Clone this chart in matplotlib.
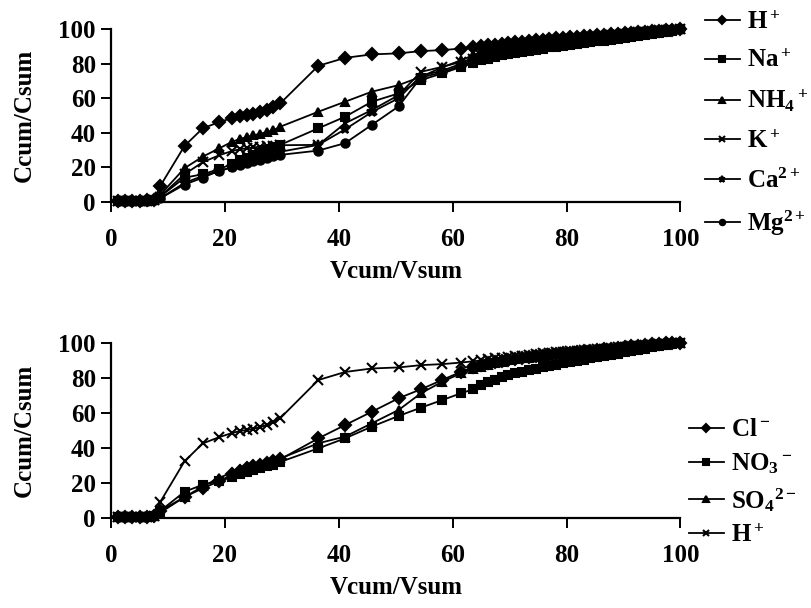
import matplotlib
matplotlib.use("Agg")
import matplotlib.pyplot as plt

# ---------------- data ----------------
x_sparse = [1.2, 2.5, 3.7, 5.0, 6.3, 7.5, 8.6, 12.9, 16.1, 19.0, 21.3, 22.7, 23.8, 25.0,
            26.2, 27.4, 28.5, 29.7, 36.4, 41.1, 45.8, 50.5, 54.4, 58.2, 61.5, 63.6]
x_dense = [65.0, 66.2, 67.4, 68.6, 69.8, 71.0, 72.2, 73.4, 74.6, 75.8, 77.0, 78.2, 79.4,
           80.6, 81.8, 83.0, 84.2, 85.4, 86.6, 87.8, 89.0, 90.2, 91.4, 92.6, 93.8, 95.0,
           96.2, 97.4, 98.6, 100.0]
x_vals = x_sparse + x_dense

h_plus = [0.5, 0.5, 0.5, 0.6, 0.8, 1.0, 9.0, 32.4, 42.6, 46.2, 48.6, 49.7, 50.3, 50.9,
          52.0, 53.2, 54.7, 57.0, 78.8, 83.4, 85.4, 86.0, 87.3, 87.9, 88.8, 89.5,
          90.0, 90.6, 91.1, 91.6, 92.0, 92.4, 92.8, 93.2, 93.6, 94.0, 94.3, 94.7, 95.0,
          95.3, 95.6, 95.9, 96.2, 96.5, 96.8, 97.1, 97.4, 97.7, 98.0, 98.3, 98.6, 98.9,
          99.2, 99.5, 99.8, 100.0]
na_plus = [0.3, 0.3, 0.4, 0.5, 0.6, 0.8, 3.0, 14.0, 16.0, 19.0, 22.0, 24.0, 25.5, 27.0,
           28.5, 30.0, 31.5, 33.0, 42.6, 49.3, 58.0, 62.8, 70.5, 74.4, 78.2, 80.2,
           82.0, 83.0, 84.0, 84.8, 85.6, 86.3, 87.0, 87.6, 88.2, 88.8, 89.4, 89.9, 90.4,
           90.9, 91.4, 91.9, 92.4, 92.9, 93.4, 93.9, 94.4, 94.9, 95.4, 95.9, 96.5, 97.1,
           97.8, 98.5, 99.2, 100.0]
nh4_plus = [0.3, 0.3, 0.4, 0.5, 0.6, 0.8, 4.0, 19.5, 26.2, 31.0, 34.9, 36.5, 37.5, 38.5,
            39.5, 40.5, 41.5, 43.5, 52.2, 58.0, 63.8, 67.6, 72.4, 78.0, 82.0, 85.0,
            87.0, 88.2, 89.3, 90.2, 91.0, 91.7, 92.3, 92.9, 93.4, 93.9, 94.3, 94.7, 95.1,
            95.5, 95.9, 96.2, 96.5, 96.8, 97.1, 97.4, 97.7, 98.0, 98.3, 98.6, 98.9, 99.2,
            99.4, 99.6, 99.8, 100.0]
k_plus = [0.3, 0.3, 0.4, 0.5, 0.6, 0.8, 3.0, 16.0, 23.0, 27.0, 29.5, 30.5, 31.0, 31.5,
          32.0, 32.3, 32.6, 32.8, 33.0, 45.5, 53.2, 61.8, 75.3, 78.2, 81.1, 83.0,
          85.0, 86.4, 87.6, 88.5, 89.3, 90.0, 90.6, 91.2, 91.8, 92.3, 92.8, 93.3, 93.7,
          94.1, 94.5, 94.9, 95.3, 95.7, 96.1, 96.5, 96.9, 97.3, 97.7, 98.1, 98.5, 98.9,
          99.3, 99.6, 99.8, 100.0]
ca_plus = [0.3, 0.3, 0.4, 0.5, 0.6, 0.8, 2.0, 11.0, 15.0, 18.0, 20.0, 22.0, 23.5, 25.0,
           26.0, 27.0, 28.0, 29.0, 33.0, 42.0, 52.0, 60.0, 73.0, 76.0, 80.0, 82.0,
           84.0, 85.3, 86.5, 87.4, 88.2, 88.9, 89.6, 90.2, 90.8, 91.3, 91.8, 92.3, 92.8,
           93.3, 93.7, 94.1, 94.5, 94.9, 95.3, 95.7, 96.1, 96.5, 96.9, 97.3, 97.7, 98.1,
           98.5, 99.0, 99.5, 100.0]
mg_plus = [0.3, 0.3, 0.4, 0.5, 0.6, 0.8, 2.0, 10.0, 14.0, 18.0, 20.0, 21.5, 22.5, 23.5,
           24.5, 25.5, 26.5, 27.2, 29.7, 34.0, 44.6, 55.3, 72.0, 75.0, 79.0, 81.0,
           83.0, 84.2, 85.3, 86.2, 87.0, 87.7, 88.4, 89.0, 89.6, 90.2, 90.7, 91.2, 91.7,
           92.2, 92.7, 93.2, 93.7, 94.2, 94.7, 95.2, 95.7, 96.2, 96.7, 97.2, 97.7, 98.2,
           98.7, 99.2, 99.6, 100.0]

cl_minus = [0.5, 0.5, 0.5, 0.6, 0.8, 1.0, 4.0, 12.0, 17.0, 21.0, 25.0, 27.0, 28.5, 29.5,
            30.5, 31.5, 32.5, 33.5, 45.5, 53.1, 60.7, 68.4, 73.5, 78.9, 83.6, 86.0,
            87.5, 88.4, 89.2, 89.9, 90.5, 91.0, 91.5, 92.0, 92.4, 92.8, 93.2, 93.6, 94.0,
            94.4, 94.8, 95.2, 95.6, 96.0, 96.4, 96.8, 97.2, 97.6, 98.0, 98.4, 98.8, 99.1,
            99.4, 99.7, 99.9, 100.0]
no3_minus = [0.5, 0.5, 0.5, 0.6, 0.8, 1.0, 4.0, 15.0, 19.0, 21.0, 23.5, 25.0, 26.2, 27.4,
             28.5, 29.5, 30.5, 32.0, 39.8, 45.5, 52.2, 58.3, 63.0, 67.4, 71.3, 73.5,
             76.0, 77.6, 79.0, 80.3, 81.5, 82.6, 83.6, 84.5, 85.3, 86.1, 86.9, 87.6, 88.3,
             89.0, 89.7, 90.4, 91.1, 91.8, 92.5, 93.2, 93.9, 94.6, 95.3, 96.0, 96.7, 97.4,
             98.1, 98.8, 99.4, 100.0]
so4_minus = [0.5, 0.5, 0.5, 0.6, 0.8, 1.0, 3.0, 12.0, 18.0, 23.0, 26.0, 28.0, 29.0, 30.0,
             31.0, 32.0, 33.0, 34.0, 42.7, 46.5, 54.1, 61.7, 71.2, 77.9, 82.7, 85.0,
             86.5, 87.6, 88.5, 89.3, 90.0, 90.6, 91.1, 91.6, 92.1, 92.6, 93.0, 93.4, 93.8,
             94.2, 94.6, 95.0, 95.4, 95.8, 96.2, 96.6, 97.0, 97.4, 97.8, 98.2, 98.6, 99.0,
             99.3, 99.6, 99.8, 100.0]

top_series = [("H$^+$", h_plus, "D"), ("Na$^+$", na_plus, "s"), ("NH$_4$$^+$", nh4_plus, "^"),
              ("K$^+$", k_plus, "x"), ("Ca$^{2+}$", ca_plus, "*"), ("Mg$^{2+}$", mg_plus, "o")]
bottom_series = [("Cl$^-$", cl_minus, "D"), ("NO$_3$$^-$", no3_minus, "s"),
                 ("SO$_4$$^{2-}$", so4_minus, "^"), ("H$^+$", h_plus, "x")]
ticks = [0, 20, 40, 60, 80, 100]

# ---------------- style ----------------
plt.rcParams["font.family"] = ["Liberation Serif", "DejaVu Serif"]
plt.rcParams["font.weight"] = "bold"
plt.rcParams["mathtext.fontset"] = "custom"
plt.rcParams["mathtext.rm"] = "Liberation Serif:bold"
plt.rcParams["mathtext.it"] = "Liberation Serif:bold"
plt.rcParams["mathtext.bf"] = "Liberation Serif:bold"
plt.rcParams["mathtext.default"] = "rm"

fig = plt.figure(figsize=(8.11, 6.08), dpi=100)
ax1 = fig.add_axes([0.137, 0.668, 0.702, 0.284])
ax2 = fig.add_axes([0.137, 0.148, 0.702, 0.288])

FS = 18

def style(ax):
    ax.set_xlim(0, 100)
    ax.set_ylim(0, 100)
    ax.set_xticks(ticks)
    ax.set_yticks(ticks)
    for s in ("top", "right"):
        ax.spines[s].set_visible(False)
    for s in ("left", "bottom"):
        ax.spines[s].set_linewidth(1.6)
    ax.tick_params(direction="out", length=7, width=1.4, labelsize=FS, pad=4)
    ax.tick_params(axis="x", pad=12)
    for lab in ax.get_xticklabels() + ax.get_yticklabels():
        lab.set_fontweight("bold")
    ax.set_xlabel("Vcum/Vsum", fontsize=FS, fontweight="bold", labelpad=6)
    ax.set_ylabel("Ccum/Csum", fontsize=FS, fontweight="bold", labelpad=16)

for label, ys, m in top_series:
    ms = 7.5 if m in ("*", "x") else 6
    ax1.plot(x_vals, ys, color="black", lw=1.3, marker=m, ms=ms, mew=1.5,
             label=label, clip_on=False)
for label, ys, m in bottom_series:
    ms = 7.5 if m in ("*", "x") else 6
    ax2.plot(x_vals, ys, color="black", lw=1.3, marker=m, ms=ms, mew=1.5,
             label=label, clip_on=False)

style(ax1)
style(ax2)

leg_kw = dict(frameon=False, fontsize=FS, handlelength=1.4, handletextpad=0.3,
              borderaxespad=0.0, borderpad=0.0, markerscale=0.65, loc="upper left")
l1 = ax1.legend(bbox_to_anchor=(0.869, 0.982), bbox_transform=fig.transFigure,
                labelspacing=0.62, **leg_kw)
l2 = ax2.legend(bbox_to_anchor=(0.849, 0.312), bbox_transform=fig.transFigure,
                labelspacing=0.4, **leg_kw)
for t in l1.get_texts() + l2.get_texts():
    t.set_fontweight("bold")

fig.savefig("out.png", dpi=100)
